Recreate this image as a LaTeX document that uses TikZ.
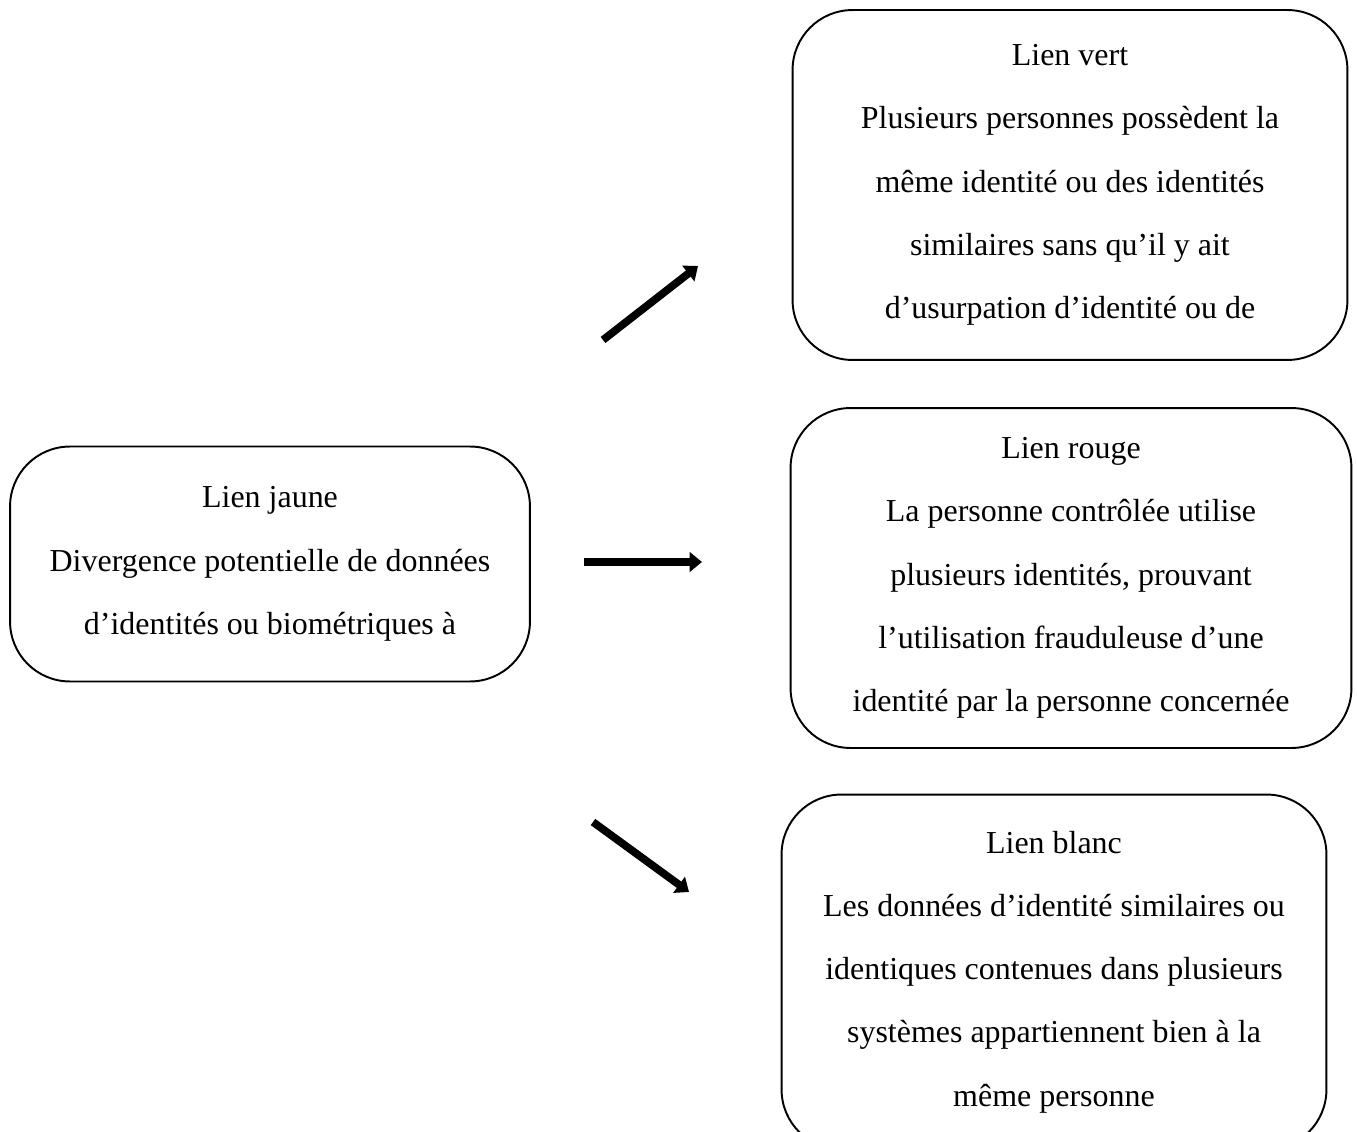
\documentclass[tikz,border=0pt]{standalone}
\usepackage{fontspec}
\setmainfont{Liberation Serif}
\usetikzlibrary{arrows.meta}

\tikzset{
  lien/.style={draw, line width=1.1pt, rounded corners=1.2cm, align=center,
    font=\fontsize{18.2}{36}\selectfont},
  fleche/.style={line width=4.4pt, -{Triangle[length=7pt,width=11pt]}}
}

\begin{document}
\begin{tikzpicture}[x=0.02cm, y=-0.02cm]
      \clip (0,0) rectangle (1357,1132);

      \node [lien, minimum width=10.4cm, minimum height=4.7cm] (1) at (270,564)
        {Lien jaune\\Divergence potentielle de données\\d’identités ou biométriques à};
      \node [lien, minimum width=11.1cm, minimum height=7cm] (2) at (1070,185)
        {Lien vert\\Plusieurs personnes possèdent la\\même identité ou des identités\\similaires sans qu’il y ait\\d’usurpation d’identité ou de};
      \node [lien, minimum width=11.22cm, minimum height=6.8cm] (3) at (1071,578)
        {Lien rouge\\La personne contrôlée utilise\\plusieurs identités, prouvant\\l’utilisation frauduleuse d’une\\identité par la personne concernée};
      \node [lien, minimum width=10.9cm, minimum height=7.1cm] (4) at (1054,972)
        {Lien blanc\\Les données d’identité similaires ou\\identiques contenues dans plusieurs\\systèmes appartiennent bien à la\\même personne};

      \coordinate (5) at (603,340);
      \coordinate (6) at (698,266);
      \coordinate (7) at (584,562);
      \coordinate (8) at (702,562);
      \coordinate (9) at (593,822);
      \coordinate (10) at (689,892);

      \draw[fleche] (5) -- (6);
      \draw[fleche] (7) -- (8);
      \draw[fleche] (9) -- (10);
    \end{tikzpicture}
\end{document}
